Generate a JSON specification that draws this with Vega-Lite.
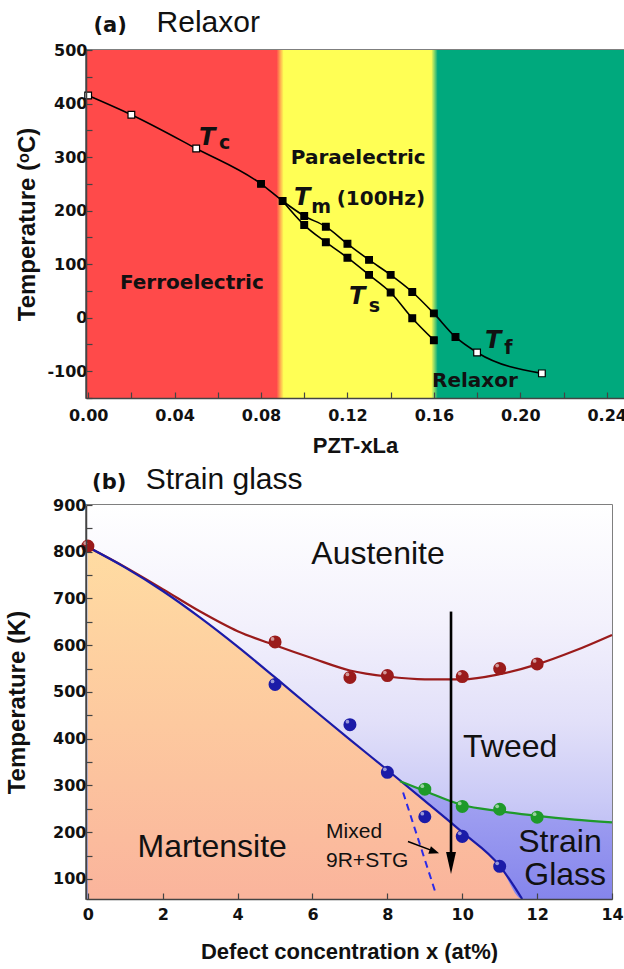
{
  "$schema": "https://vega.github.io/schema/vega-lite/v6.json",
  "background": "white",
  "padding": {"left": 4, "top": 7, "right": 0, "bottom": 0},
  "config": {
    "view": {"stroke": "#555", "strokeWidth": 1.5},
    "axis": {
      "grid": false, "zindex": 1, "domainColor": "#444", "domainWidth": 1.5,
      "tickColor": "#444", "tickWidth": 1.2,
      "labelFont": "DejaVu Sans", "labelFontWeight": "bold", "labelFontSize": 16, "labelColor": "#111",
      "titleFont": "Liberation Sans", "titleFontWeight": "bold", "titleColor": "#111",
      "labelFlush": false, "labelOverlap": false
    }
  },
  "resolve": {"scale": {"color": "independent", "fill": "independent"}},
  "datasets": {
    "aBands": [
      {"x": -0.001, "xe": 0.089, "phase": "Ferroelectric"},
      {"x": 0.089, "xe": 0.16, "phase": "Paraelectric"},
      {"x": 0.16, "xe": 0.248, "phase": "Relaxor"}
    ],
    "aBoundaries": [
      {"x": 0.0872, "xe": 0.0905, "b": "FP"},
      {"x": 0.1588, "xe": 0.1618, "b": "PR"}
    ],
    "aCurves": [
      {"series": "Tc-Tm", "x": 0.0, "y": 415, "marker": "open"},
      {"series": "Tc-Tm", "x": 0.02, "y": 379, "marker": "open"},
      {"series": "Tc-Tm", "x": 0.05, "y": 316, "marker": "open"},
      {"series": "Tc-Tm", "x": 0.08, "y": 250, "marker": "filled"},
      {"series": "Tc-Tm", "x": 0.09, "y": 218, "marker": "filled"},
      {"series": "Tc-Tm", "x": 0.10, "y": 190, "marker": "filled"},
      {"series": "Tc-Tm", "x": 0.11, "y": 170, "marker": "filled"},
      {"series": "Tc-Tm", "x": 0.12, "y": 138, "marker": "filled"},
      {"series": "Tc-Tm", "x": 0.13, "y": 108, "marker": "filled"},
      {"series": "Tc-Tm", "x": 0.14, "y": 80, "marker": "filled"},
      {"series": "Tc-Tm", "x": 0.15, "y": 48, "marker": "filled"},
      {"series": "Tc-Tm", "x": 0.16, "y": 8, "marker": "filled"},
      {"series": "Tc-Tm", "x": 0.17, "y": -36, "marker": "filled"},
      {"series": "Tc-Tm", "x": 0.18, "y": -65, "marker": "open"},
      {"series": "Tc-Tm", "x": 0.21, "y": -104, "marker": "open"},
      {"series": "Ts", "x": 0.09, "y": 218, "marker": "none"},
      {"series": "Ts", "x": 0.10, "y": 173, "marker": "filled"},
      {"series": "Ts", "x": 0.11, "y": 141, "marker": "filled"},
      {"series": "Ts", "x": 0.12, "y": 112, "marker": "filled"},
      {"series": "Ts", "x": 0.13, "y": 80, "marker": "filled"},
      {"series": "Ts", "x": 0.14, "y": 47, "marker": "filled"},
      {"series": "Ts", "x": 0.15, "y": -1, "marker": "filled"},
      {"series": "Ts", "x": 0.16, "y": -42, "marker": "filled"}
    ],
    "aLabels": [
      {"kind": "phase", "label": "Ferroelectric", "x": 0.048, "y": 64},
      {"kind": "phase", "label": "Paraelectric", "x": 0.125, "y": 299},
      {"kind": "phase", "label": "Relaxor", "x": 0.179, "y": -118},
      {"kind": "phase", "label": "(100Hz)", "x": 0.1355, "y": 222},
      {"kind": "sym", "label": "T", "x": 0.0551, "y": 336},
      {"kind": "sub", "label": "c", "x": 0.0632, "y": 326},
      {"kind": "sym", "label": "T", "x": 0.099, "y": 224},
      {"kind": "sub", "label": "m", "x": 0.1078, "y": 206},
      {"kind": "sym", "label": "T", "x": 0.1245, "y": 39},
      {"kind": "sub", "label": "s", "x": 0.1325, "y": 22},
      {"kind": "sym", "label": "T", "x": 0.1875, "y": -43},
      {"kind": "sub", "label": "f", "x": 0.1945, "y": -56},
      {"kind": "tag", "label": "(a)", "x": 0.0102, "y": 534},
      {"kind": "title", "label": "Relaxor", "x": 0.0556, "y": 534}
    ],
    "bCurves": [
      {"series": "upper", "x": 0, "y": 810}, {"series": "upper", "x": 1, "y": 767},
      {"series": "upper", "x": 2, "y": 720}, {"series": "upper", "x": 3, "y": 672},
      {"series": "upper", "x": 4, "y": 630}, {"series": "upper", "x": 5, "y": 600},
      {"series": "upper", "x": 6, "y": 572}, {"series": "upper", "x": 7, "y": 546},
      {"series": "upper", "x": 8, "y": 533}, {"series": "upper", "x": 9, "y": 527},
      {"series": "upper", "x": 10, "y": 527}, {"series": "upper", "x": 11, "y": 538},
      {"series": "upper", "x": 12, "y": 559}, {"series": "upper", "x": 13, "y": 588},
      {"series": "upper", "x": 14, "y": 622},
      {"series": "martensitic", "x": 0, "y": 810}, {"series": "martensitic", "x": 1, "y": 766},
      {"series": "martensitic", "x": 2, "y": 716}, {"series": "martensitic", "x": 3, "y": 659},
      {"series": "martensitic", "x": 4, "y": 597}, {"series": "martensitic", "x": 5, "y": 531},
      {"series": "martensitic", "x": 6, "y": 464}, {"series": "martensitic", "x": 7, "y": 398},
      {"series": "martensitic", "x": 8, "y": 333}, {"series": "martensitic", "x": 9, "y": 267},
      {"series": "martensitic", "x": 10, "y": 200}, {"series": "martensitic", "x": 11, "y": 128},
      {"series": "martensitic", "x": 11.6, "y": 57},
      {"series": "glass", "x": 8.34, "y": 309}, {"series": "glass", "x": 9, "y": 288},
      {"series": "glass", "x": 10, "y": 258}, {"series": "glass", "x": 11, "y": 245},
      {"series": "glass", "x": 12, "y": 235}, {"series": "glass", "x": 13, "y": 227},
      {"series": "glass", "x": 14, "y": 221}
    ],
    "bSG": [
      {"x": 8.34, "y": 309, "ylo": 309}, {"x": 9, "y": 288, "ylo": 267},
      {"x": 10, "y": 258, "ylo": 200}, {"x": 11, "y": 245, "ylo": 128},
      {"x": 11.6, "y": 239, "ylo": 57}, {"x": 12, "y": 235, "ylo": 57},
      {"x": 13, "y": 227, "ylo": 57}, {"x": 14, "y": 221, "ylo": 57}
    ],
    "bDash": [{"x": 8.42, "y": 285}, {"x": 9.28, "y": 72}],
    "bPoints": [
      {"series": "upper", "x": 0, "y": 812}, {"series": "upper", "x": 5, "y": 607},
      {"series": "upper", "x": 7, "y": 531}, {"series": "upper", "x": 8, "y": 535},
      {"series": "upper", "x": 10, "y": 533}, {"series": "upper", "x": 11, "y": 550},
      {"series": "upper", "x": 12, "y": 560},
      {"series": "martensitic", "x": 5, "y": 516}, {"series": "martensitic", "x": 7, "y": 430},
      {"series": "martensitic", "x": 8, "y": 328}, {"series": "martensitic", "x": 9, "y": 233},
      {"series": "martensitic", "x": 10, "y": 191}, {"series": "martensitic", "x": 11, "y": 127},
      {"series": "glass", "x": 9, "y": 292}, {"series": "glass", "x": 10, "y": 255},
      {"series": "glass", "x": 11, "y": 249}, {"series": "glass", "x": 12, "y": 232}
    ],
    "bArrows": [
      {"arrow": "main", "x": 9.7, "y": 672, "xe": 9.7, "ye": 150},
      {"arrow": "mixed", "x": 8.55, "y": 180, "xe": 9.25, "ye": 159}
    ],
    "bHeads": [
      {"arrow": "main", "x": 9.7, "y": 134},
      {"arrow": "mixed", "x": 9.255, "y": 158.5}
    ],
    "bLabels": [
      {"kind": "region", "label": "Austenite", "x": 7.75, "y": 795},
      {"kind": "region", "label": "Tweed", "x": 11.28, "y": 383},
      {"kind": "region", "label": "Martensite", "x": 3.32, "y": 168},
      {"kind": "region", "label": "Strain", "x": 12.61, "y": 180},
      {"kind": "region", "label": "Glass", "x": 12.75, "y": 108},
      {"kind": "note", "label": "Mixed", "x": 7.11, "y": 200},
      {"kind": "note", "label": "9R+STG", "x": 7.46, "y": 138},
      {"kind": "tag", "label": "(b)", "x": 0.57, "y": 934},
      {"kind": "title", "label": "Strain glass", "x": 3.64, "y": 934}
    ]
  },
  "spacing": 107,
  "bounds": "flush",
  "vconcat": [
    {
      "width": 538,
      "height": 348,
      "layer": [
        {
          "data": {"name": "aBands"},
          "mark": {"type": "rect"},
          "encoding": {
            "x": {"field": "x", "type": "quantitative", "scale": {"domain": [-0.001, 0.248], "nice": false, "zero": false}},
            "x2": {"field": "xe"},
            "color": {
              "field": "phase", "type": "nominal",
              "scale": {"domain": ["Ferroelectric", "Paraelectric", "Relaxor"], "range": ["#FF4A4A", "#FFFF55", "#00A97D"]},
              "legend": null
            }
          }
        },
        {
          "data": {"name": "aBoundaries"},
          "transform": [{"filter": "datum.b == 'FP'"}],
          "mark": {"type": "rect", "fill": {"gradient": "linear", "x1": 0, "y1": 0, "x2": 1, "y2": 0, "stops": [{"offset": 0, "color": "#FF4A4A"}, {"offset": 0.5, "color": "#FFA850"}, {"offset": 1, "color": "#FFFF55"}]}},
          "encoding": {
            "x": {"field": "x", "type": "quantitative", "scale": {"domain": [-0.001, 0.248], "nice": false, "zero": false}},
            "x2": {"field": "xe"}
          }
        },
        {
          "data": {"name": "aBoundaries"},
          "transform": [{"filter": "datum.b == 'PR'"}],
          "mark": {"type": "rect", "fill": {"gradient": "linear", "x1": 0, "y1": 0, "x2": 1, "y2": 0, "stops": [{"offset": 0, "color": "#FFFF55"}, {"offset": 0.5, "color": "#80D46A"}, {"offset": 1, "color": "#00A97D"}]}},
          "encoding": {
            "x": {"field": "x", "type": "quantitative", "scale": {"domain": [-0.001, 0.248], "nice": false, "zero": false}},
            "x2": {"field": "xe"}
          }
        },
        {
          "encoding": {
            "x": {
              "field": "x", "type": "quantitative",
              "scale": {"domain": [-0.001, 0.248], "nice": false, "zero": false},
              "axis": {
                "title": "PZT-xLa", "titleFontSize": 22, "titlePadding": 12, "labelPadding": 15, "tickSize": -6, "zindex": 1,
                "values": [0, 0.02, 0.04, 0.06, 0.08, 0.1, 0.12, 0.14, 0.16, 0.18, 0.2, 0.22, 0.24],
                "labelExpr": "abs(round(datum.value*100)) % 4 == 0 ? format(datum.value, '.2f') : ''"
              }
            },
            "y": {
              "field": "y", "type": "quantitative",
              "scale": {"domain": [-150, 500], "nice": false, "zero": false},
              "axis": {
                "title": "Temperature (ᵒC)", "titleFontSize": 24, "titlePadding": 7, "labelPadding": 5, "tickSize": -6, "zindex": 1,
                "values": [-150, -100, -50, 0, 50, 100, 150, 200, 250, 300, 350, 400, 450, 500],
                "labelExpr": "datum.value % 100 == 0 ? toString(datum.value) : ''"
              }
            }
          },
          "layer": [
            {
              "data": {"name": "aCurves"},
              "mark": {"type": "line", "color": "#000", "strokeWidth": 1.6, "interpolate": "monotone"},
              "encoding": {"detail": {"field": "series", "type": "nominal"}}
            },
            {
              "data": {"name": "aCurves"},
              "transform": [{"filter": "datum.marker != 'none'"}],
              "mark": {"type": "point", "shape": "square", "filled": true, "stroke": "#000", "strokeWidth": 1.2, "size": 45, "opacity": 1},
              "encoding": {
                "fill": {"field": "marker", "type": "nominal", "scale": {"domain": ["open", "filled"], "range": ["#FFFFFF", "#000000"]}, "legend": null}
              }
            },
            {
              "data": {"name": "aLabels"},
              "transform": [{"filter": "datum.kind == 'phase'"}],
              "mark": {"type": "text", "font": "DejaVu Sans", "fontWeight": "bold", "fontSize": 20, "color": "#111"},
              "encoding": {"text": {"field": "label"}}
            },
            {
              "data": {"name": "aLabels"},
              "transform": [{"filter": "datum.kind == 'sym'"}],
              "mark": {"type": "text", "font": "DejaVu Sans", "fontWeight": "bold", "fontStyle": "italic", "fontSize": 24, "color": "#111"},
              "encoding": {"text": {"field": "label"}}
            },
            {
              "data": {"name": "aLabels"},
              "transform": [{"filter": "datum.kind == 'sub'"}],
              "mark": {"type": "text", "font": "DejaVu Sans", "fontWeight": "bold", "fontSize": 19, "color": "#111"},
              "encoding": {"text": {"field": "label"}}
            },
            {
              "data": {"name": "aLabels"},
              "transform": [{"filter": "datum.kind == 'tag'"}],
              "mark": {"type": "text", "font": "DejaVu Sans", "fontWeight": "bold", "fontSize": 21, "baseline": "alphabetic", "color": "#111"},
              "encoding": {"text": {"field": "label"}}
            },
            {
              "data": {"name": "aLabels"},
              "transform": [{"filter": "datum.kind == 'title'"}],
              "mark": {"type": "text", "font": "Liberation Sans", "fontSize": 30, "baseline": "alphabetic", "color": "#111"},
              "encoding": {"text": {"field": "label"}}
            }
          ]
        }
      ]
    },
    {
      "width": 526,
      "height": 394,
      "layer": [
        {
          "data": {"values": [{}]},
          "mark": {"type": "rect", "fill": {"gradient": "linear", "x1": 0, "y1": 0, "x2": 0, "y2": 1, "stops": [
            {"offset": 0, "color": "#FFFFFF"}, {"offset": 0.3, "color": "#F3F1FC"}, {"offset": 0.55, "color": "#E2E0F9"},
            {"offset": 0.75, "color": "#CACAF6"}, {"offset": 1, "color": "#A9A9F1"}]}},
          "encoding": {
            "x": {"datum": -0.05, "type": "quantitative", "scale": {"domain": [-0.05, 14], "nice": false, "zero": false}},
            "x2": {"datum": 14}
          }
        },
        {
          "encoding": {
            "x": {
              "field": "x", "type": "quantitative",
              "scale": {"domain": [-0.05, 14], "nice": false, "zero": false},
              "axis": {
                "title": "Defect concentration x (at%)", "titleFontSize": 22, "titlePadding": 19, "labelPadding": 13, "tickSize": -6, "zindex": 1,
                "values": [0, 1, 2, 3, 4, 5, 6, 7, 8, 9, 10, 11, 12, 13, 14],
                "labelExpr": "datum.value % 2 == 0 ? toString(datum.value) : ''"
              }
            },
            "y": {
              "field": "y", "type": "quantitative",
              "scale": {"domain": [57, 900], "nice": false, "zero": false},
              "axis": {
                "title": "Temperature (K)", "titleFontSize": 24, "titlePadding": 23, "labelPadding": 6, "tickSize": -6, "zindex": 1,
                "values": [100, 150, 200, 250, 300, 350, 400, 450, 500, 550, 600, 650, 700, 750, 800, 850, 900],
                "labelExpr": "datum.value % 100 == 0 ? toString(datum.value) : ''"
              }
            }
          },
          "layer": [
            {
              "data": {"name": "bCurves"},
              "transform": [{"filter": "datum.series == 'martensitic'"}],
              "mark": {"type": "area", "interpolate": "monotone", "fill": {"gradient": "linear", "x1": 0, "y1": 0, "x2": 0, "y2": 1, "stops": [
                {"offset": 0, "color": "#FFDCA2"}, {"offset": 0.5, "color": "#FDC99F"}, {"offset": 1, "color": "#FAB49C"}]}},
              "encoding": {"y2": {"datum": 57}}
            },
            {
              "data": {"name": "bSG"},
              "mark": {"type": "area", "interpolate": "monotone", "fill": {"gradient": "linear", "x1": 0, "y1": 0, "x2": 0, "y2": 1, "stops": [
                {"offset": 0, "color": "#A6A6F2"}, {"offset": 1, "color": "#8585EC"}]}},
              "encoding": {"y2": {"field": "ylo"}}
            },
            {
              "data": {"name": "bCurves"},
              "mark": {"type": "line", "strokeWidth": 2.2, "interpolate": "monotone"},
              "encoding": {
                "color": {"field": "series", "type": "nominal", "scale": {"domain": ["upper", "martensitic", "glass"], "range": ["#9A1B1B", "#1B1BA8", "#1E9A2A"]}, "legend": null}
              }
            },
            {
              "data": {"name": "bDash"},
              "mark": {"type": "line", "color": "#2A2AE8", "strokeWidth": 2, "strokeDash": [7, 5]},
              "encoding": {}
            },
            {
              "data": {"name": "bPoints"},
              "mark": {"type": "circle", "size": 170, "opacity": 1},
              "encoding": {
                "color": {"field": "series", "type": "nominal", "scale": {"domain": ["upper", "martensitic", "glass"], "range": ["#9A1B1B", "#1B1BA8", "#1E9A2A"]}, "legend": null}
              }
            },
            {
              "data": {"name": "bPoints"},
              "mark": {"type": "circle", "size": 14, "color": "#FFFFFF", "opacity": 0.55, "xOffset": -2.5, "yOffset": -3}
            },
            {
              "data": {"name": "bArrows"},
              "transform": [{"filter": "datum.arrow == 'main'"}],
              "mark": {"type": "rule", "color": "#000", "strokeWidth": 2.6},
              "encoding": {"x2": {"field": "xe"}, "y2": {"field": "ye"}}
            },
            {
              "data": {"name": "bArrows"},
              "transform": [{"filter": "datum.arrow == 'mixed'"}],
              "mark": {"type": "rule", "color": "#000", "strokeWidth": 1.5},
              "encoding": {"x2": {"field": "xe"}, "y2": {"field": "ye"}}
            },
            {
              "data": {"name": "bHeads"},
              "transform": [{"filter": "datum.arrow == 'main'"}],
              "mark": {"type": "point", "shape": "M-0.45,-1L0.45,-1L0,1Z", "size": 484, "filled": true, "color": "#000", "opacity": 1}
            },
            {
              "data": {"name": "bHeads"},
              "transform": [{"filter": "datum.arrow == 'mixed'"}],
              "mark": {"type": "point", "shape": "M-1,-0.8L1,0L-1,0.8Z", "size": 100, "filled": true, "color": "#000", "opacity": 1, "angle": 19}
            },
            {
              "data": {"name": "bLabels"},
              "transform": [{"filter": "datum.kind == 'region'"}],
              "mark": {"type": "text", "font": "Liberation Sans", "fontSize": 32, "color": "#111"},
              "encoding": {"text": {"field": "label"}}
            },
            {
              "data": {"name": "bLabels"},
              "transform": [{"filter": "datum.kind == 'note'"}],
              "mark": {"type": "text", "font": "Liberation Sans", "fontSize": 21, "color": "#111"},
              "encoding": {"text": {"field": "label"}}
            },
            {
              "data": {"name": "bLabels"},
              "transform": [{"filter": "datum.kind == 'tag'"}],
              "mark": {"type": "text", "font": "DejaVu Sans", "fontWeight": "bold", "fontSize": 21, "baseline": "alphabetic", "color": "#111"},
              "encoding": {"text": {"field": "label"}}
            },
            {
              "data": {"name": "bLabels"},
              "transform": [{"filter": "datum.kind == 'title'"}],
              "mark": {"type": "text", "font": "Liberation Sans", "fontSize": 30, "baseline": "alphabetic", "color": "#111"},
              "encoding": {"text": {"field": "label"}}
            }
          ]
        }
      ]
    }
  ]
}
